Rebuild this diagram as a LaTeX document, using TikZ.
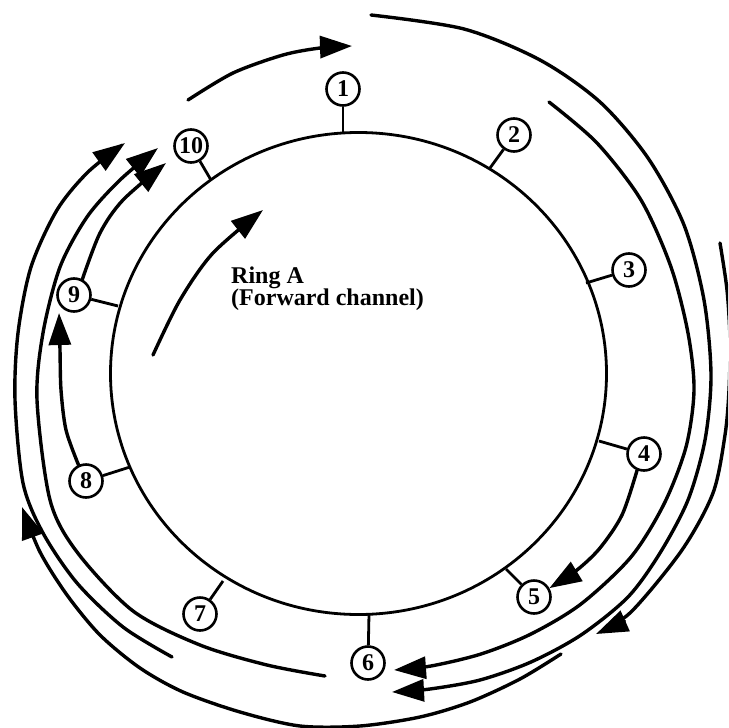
\documentclass[tikz,border=0pt]{standalone}
\usepackage{fontspec}
\setmainfont{Liberation Serif}
\usetikzlibrary{arrows.meta}
\begin{document}
\begin{tikzpicture}[x=1pt,y=-1pt,
  station/.style={circle,draw,line width=2.6pt,minimum size=33pt,inner sep=0pt,
    font=\fontsize{24}{24}\selectfont\bfseries},
  stem/.style={line width=2.8pt},
  ring/.style={line width=2.8pt},
  flow/.style={line width=3.4pt,line cap=round,-{Triangle[length=32pt,width=22pt]}},
  lbl/.style={font=\fontsize{24}{22}\selectfont\bfseries,inner sep=0pt,anchor=base west}]
\useasboundingbox (0,0) rectangle (728,728);
\clip (0,0) rectangle (728,728);
% main ring
\draw[ring] (358.5,373.5) ellipse [x radius=248, y radius=241];
% stations
\node[station] (n1) at (343,89) {1};
\node[station] (n2) at (514,135) {2};
\node[station] (n3) at (629,270) {3};
\node[station] (n4) at (644,454) {4};
\node[station] (n5) at (534,597) {5};
\node[station] (n6) at (368,663) {6};
\node[station] (n7) at (200,614) {7};
\node[station] (n8) at (86,481) {8};
\node[station] (n9) at (74,295) {9};
\node[station] (n10) at (191,146) {10};
\coordinate (r1) at (343,133);
\coordinate (r2) at (490,168);
\coordinate (r3) at (586,283);
\coordinate (r4) at (599,441);
\coordinate (r5) at (506,569);
\coordinate (r6) at (369,614);
\coordinate (r7) at (223,581);
\coordinate (r8) at (130,467);
\coordinate (r9) at (118,306);
\coordinate (r10) at (211,180);
\foreach \i in {1,...,10} {\draw[stem] (n\i) -- (r\i);}
% label
\node[lbl] (lab1) at (231,283) {Ring A};
\node[lbl] (lab2) at (231,305) {(Forward channel)};
% inner arrow
\draw[flow] plot[smooth] coordinates {(153,355) (180,300) (213,253) (263,210)};
% top arrow
\draw[flow] plot[smooth] coordinates {(188,100) (233,73) (283,55) (320,48) (352,46)};
% right side arcs
\draw[flow] plot[smooth] coordinates {(371,15) (464,29) (540,60) (600,102) (648,158) (684,225) (704,300) (711,375) (705,440) (688,500) (660,553) (628,597) (581,635) (531,662) (480,680) (430,689) (392,692)};
\draw[flow] plot[smooth] coordinates {(549,102) (597,143) (641,200) (671,267) (688,333) (694,390) (686,447) (664,504) (631,557) (581,604) (531,634) (481,654) (431,666) (394,670)};
\draw[flow] plot[smooth] coordinates {(720,243) (727,290) (730,340) (729,390) (725,435) (713,493) (682,550) (631,612) (596,634)};
% bottom/left outer arc
\draw[flow] plot[smooth] coordinates {(561,654) (520,679) (470,702) (420,717) (360,726) (300,726) (240,712) (183,692) (140,668) (100,635) (67,595) (40,552) (22,507)};
% left arcs
\draw[flow] plot[smooth] coordinates {(172,657) (123,627) (77,583) (43,533) (23,483) (15,400) (18,333) (31,267) (57,210) (88,172) (125,143)};
\draw[flow] plot[smooth] coordinates {(325,676) (267,665) (200,645) (133,611) (77,552) (50,500) (37,400) (43,333) (60,267) (87,217) (120,180) (158,148)};
% station-to-station arcs
\draw[flow] plot[smooth] coordinates {(n9.62) (100,233) (123,200) (166,163)};
\draw[flow] plot[smooth] coordinates {(n8.115) (66,430) (61,390) (60,350) (59,313)};
\draw[flow] plot[smooth] coordinates {(n4.247) (622,515) (600,548) (577,570) (n5.30)};
\end{tikzpicture}
\end{document}
